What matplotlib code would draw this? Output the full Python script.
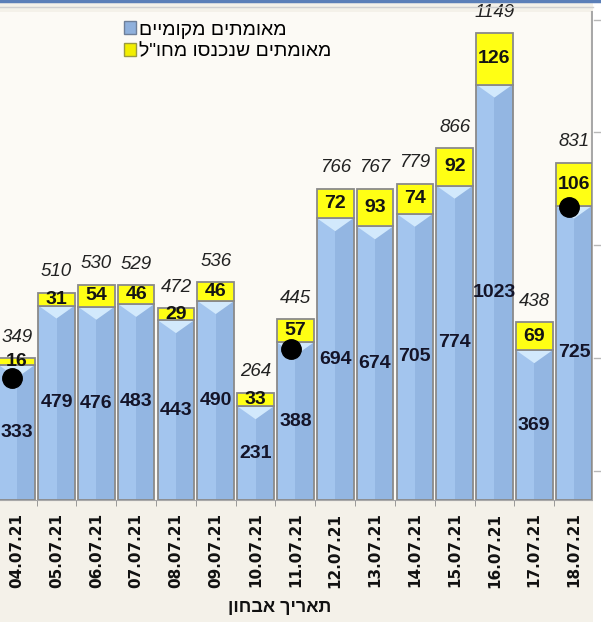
import matplotlib.pyplot as plt
from matplotlib.patches import Rectangle, Polygon
from matplotlib.lines import Line2D
import numpy as np

plt.rcParams['font.family'] = ['Liberation Sans', 'DejaVu Sans']

dates = ['04.07.21', '05.07.21', '06.07.21', '07.07.21', '08.07.21',
         '09.07.21', '10.07.21', '11.07.21', '12.07.21', '13.07.21',
         '14.07.21', '15.07.21', '16.07.21', '17.07.21', '18.07.21']
local = [333, 479, 476, 483, 443, 490, 231, 388, 694, 674, 705, 774, 1023, 369, 725]
abroad = [16, 31, 54, 46, 29, 46, 33, 57, 72, 93, 74, 92, 126, 69, 106]
dot_days = ['04.07.21', '11.07.21', '18.07.21']
dot_vals = [300, 372, 722]

name_local = 'מאומתים מקומיים'
name_abroad = 'מאומתים שנכנסו מחו"ל'
xlabel = 'תאריך אבחון'


def rtl(s):
    # matplotlib has no bidi support, so flip hebrew strings for display
    return s[::-1]


x = np.arange(len(dates))
local = np.array(local)
abroad = np.array(abroad)
total = local + abroad

fig = plt.figure(figsize=(6.01, 6.22), dpi=100)
fig.patch.set_facecolor('#F4F1E9')
ax = fig.add_axes([0.0, 0.196, 0.985, 0.785])
ax.set_facecolor('#FCFAF5')

w = 0.92
ax.bar(x, local, width=w, color='#A3C5EE', edgecolor='none', zorder=2)
ax.bar(x + w / 4, local, width=w / 2, color='#93B6E2', edgecolor='none', zorder=2)
ax.bar(x, local, width=w, color='none', edgecolor='#8A8A8A', linewidth=1.3, zorder=3)
for xi, h in zip(x, local):
    ax.add_patch(Polygon([(xi - w / 2, h), (xi + w / 2, h), (xi, h - 32)],
                         closed=True, color='#D2E9FC', zorder=2.5, linewidth=0))
ax.bar(x, abroad, bottom=local, width=w, color='#FFFF14', edgecolor='#8A8A8A',
       linewidth=1.3, zorder=3)

for xi, lo, ab, t in zip(x, local, abroad, total):
    ax.text(xi, lo / 2, str(lo), ha='center', va='center', fontsize=14,
            fontweight='bold', color='#141428', zorder=5)
    ax.text(xi, lo + ab / 2, str(ab), ha='center', va='center', fontsize=14,
            fontweight='bold', color='#141414', zorder=5)
    ax.annotate(str(t), (xi, t), xytext=(0, 9), textcoords='offset points',
                ha='center', va='bottom', fontsize=13.5, fontstyle='italic',
                color='#222222', zorder=5)

dot_x = np.array([dates.index(d) for d in dot_days]) - 0.12
ax.plot(dot_x, dot_vals, 'o', color='black', markersize=14, linestyle='none', zorder=6)

ax.set_xlim(-0.42, 14.45)
ax.set_ylim(0, 1202)
ax.set_yticks([])
ax.set_xticks(x)
ax.set_xticklabels(dates, rotation=90, fontsize=11, fontweight='bold',
                   family='DejaVu Sans', color='#111111')
ax.set_xticks(x[:-1] + 0.5, minor=True)
ax.tick_params(axis='x', which='major', length=0, pad=9)
ax.tick_params(axis='x', which='minor', length=4, color='#8A8A8A')
for s in ['left', 'top']:
    ax.spines[s].set_visible(False)
ax.spines['right'].set_color('#A8A8A8')
ax.spines['right'].set_linewidth(1.5)
ax.spines['bottom'].set_color('#A8A8A8')

fig.text(0.465, 0.024, rtl(xlabel), ha='center', va='center', fontsize=13,
         fontweight='bold', color='#111111')

handles = [Rectangle((0, 0), 1, 1, facecolor='#8FB0DC', edgecolor='#6E7F99'),
           Rectangle((0, 0), 1, 1, facecolor='#F2EE00', edgecolor='#9A9A40')]
fig.legend(handles, [rtl(name_local), rtl(name_abroad)], loc='upper left',
           bbox_to_anchor=(0.193, 0.978), frameon=False, fontsize=14,
           handlelength=0.65, handleheight=0.65, handletextpad=0.15,
           labelspacing=0.2, borderaxespad=0)

# white strip and grid stubs of the neighbouring chart on the right
fig.add_artist(Rectangle((0.987, 0.0), 0.013, 0.995, transform=fig.transFigure,
                         facecolor='white', edgecolor='none'))
for yp in [20, 132, 245, 358, 471]:
    fig.add_artist(Line2D([0.988, 1.0], [1 - yp / 622, 1 - yp / 622],
                          transform=fig.transFigure, color='#B8B8B8', linewidth=1))

# top border line
fig.add_artist(Line2D([0, 1], [0.998, 0.998], transform=fig.transFigure,
                      color='#5B7FB8', linewidth=2.5))
fig.add_artist(Line2D([0, 0.987], [0.988, 0.988], transform=fig.transFigure,
                      color='#D0D0D0', linewidth=1))

fig.savefig('out.png', dpi=100, facecolor=fig.get_facecolor())
